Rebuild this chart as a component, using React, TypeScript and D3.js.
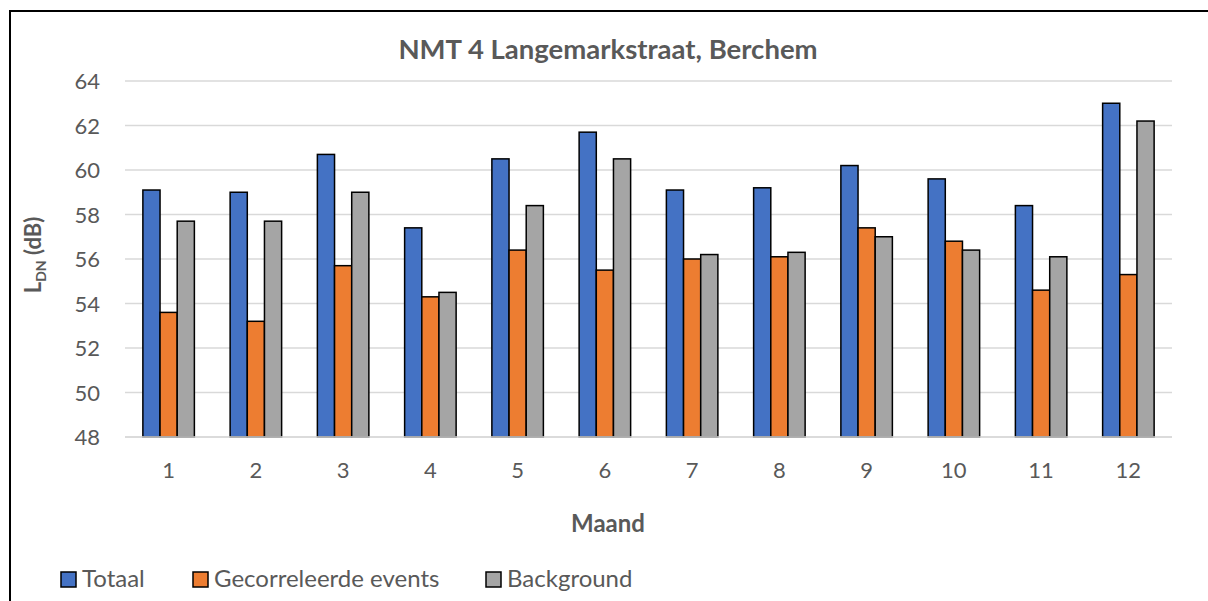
import React from "react";
import * as d3 from "d3";

const months = ["1", "2", "3", "4", "5", "6", "7", "8", "9", "10", "11", "12"];
const seriesNames = ["Totaal", "Gecorreleerde events", "Background"];
const totaal = [59.1, 59.0, 60.7, 57.4, 60.5, 61.7, 59.1, 59.2, 60.2, 59.6, 58.4, 63.0];
const gecorreleerd = [53.6, 53.2, 55.7, 54.3, 56.4, 55.5, 56.0, 56.1, 57.4, 56.8, 54.6, 55.3];
const background = [57.7, 57.7, 59.0, 54.5, 58.4, 60.5, 56.2, 56.3, 57.0, 56.4, 56.1, 62.2];
const yTicks = [48, 50, 52, 54, 56, 58, 60, 62, 64];
const colors = ["#4472C4", "#ED7D31", "#A5A5A5"];

const W = 1208;
const H = 601;
const FONT = "Lato, 'Open Sans', sans-serif";
const TXT = "#595959";

export default function App() {
  const plotL = 125, plotR = 1172, plotT = 81, plotB = 437;
  const chartCenter = 608;
  const y = d3.scaleLinear().domain([48, 64]).range([plotB, plotT]);
  const x = d3.scaleBand<string>().domain(months).range([plotL, plotR]).paddingInner(0).paddingOuter(0);
  const groupW = 51.5;
  const xs = d3.scaleBand<string>().domain(seriesNames).range([-groupW / 2, groupW / 2]).padding(0);
  const data = [totaal, gecorreleerd, background];

  const legendItems = [
    { name: seriesNames[0], x: 61 },
    { name: seriesNames[1], x: 193 },
    { name: seriesNames[2], x: 486 },
  ];

  return (
    <svg width={W} height={H} style={{ position: "absolute", left: 0, top: 0, background: "#fff" }} fontFamily={FONT}>
      <rect x={0} y={0} width={W} height={H} fill="#fff" />
      <rect x={10} y={11} width={W + 20} height={H + 20} fill="none" stroke="#000" strokeWidth={2} />
      <text x={chartCenter} y={59} textAnchor="middle" fontSize={27.5} fontWeight="bold" fill={TXT}>
        NMT 4 Langemarkstraat, Berchem
      </text>
      {yTicks.map((t) => (
        <g key={t}>
          <line x1={plotL} x2={plotR} y1={y(t)} y2={y(t)} stroke="#d9d9d9" strokeWidth={1.5} />
          <text x={100} y={y(t) + 8} textAnchor="end" fontSize={22} fill={TXT}>
            {t}
          </text>
        </g>
      ))}
      {months.map((m, i) => (
        <g key={m}>
          {data.map((arr, s) => {
            const bx = (x(m) as number) + x.bandwidth() / 2 + (xs(seriesNames[s]) as number);
            return (
              <rect
                key={s}
                x={bx}
                y={y(arr[i])}
                width={xs.bandwidth()}
                height={plotB - y(arr[i])}
                fill={colors[s]}
                stroke="#000"
                strokeWidth={1.5}
              />
            );
          })}
          <text x={(x(m) as number) + x.bandwidth() / 2} y={478} textAnchor="middle" fontSize={22} fill={TXT}>
            {m}
          </text>
        </g>
      ))}
      <line x1={plotL} x2={plotR} y1={plotB} y2={plotB} stroke="#d9d9d9" strokeWidth={1.5} />
      <text x={chartCenter} y={532} textAnchor="middle" fontSize={24} fontWeight="bold" fill={TXT}>
        Maand
      </text>
      <text transform={`translate(41, ${(plotT + plotB) / 2 - 4}) rotate(-90)`} textAnchor="middle" fontSize={22} fontWeight="bold" fill={TXT}>
        L<tspan fontSize={14} dy={5}>DN</tspan>
        <tspan dy={-5}> (dB)</tspan>
      </text>
      {legendItems.map((it, s) => (
        <g key={it.name}>
          <rect x={it.x} y={572} width={15} height={15} fill={colors[s]} stroke="#000" strokeWidth={1.5} />
          <text x={it.x + 21} y={587} fontSize={24} fill={TXT}>
            {it.name}
          </text>
        </g>
      ))}
    </svg>
  );
}
